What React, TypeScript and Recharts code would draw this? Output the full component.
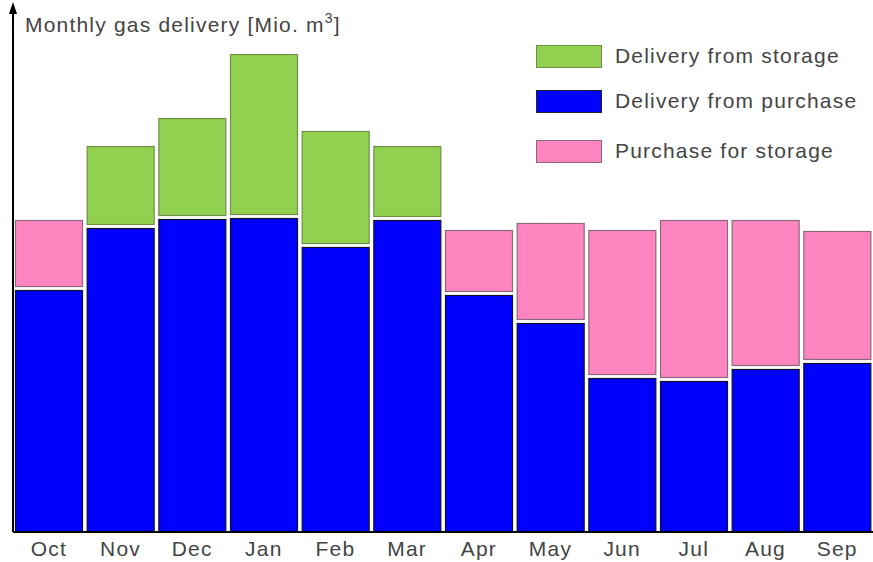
import { BarChart, Bar, XAxis, YAxis } from "recharts";

const months = ["Oct", "Nov", "Dec", "Jan", "Feb", "Mar", "Apr", "May", "Jun", "Jul", "Aug", "Sep"];
const fromPurchase = [242, 304, 313, 314, 285, 312, 237, 209, 154, 151, 163, 169];
const fromStorage = [null, 82, 101, 164, 116, 74, null, null, null, null, null, null];
const forStorage = [70, null, null, null, null, null, 65, 100, 148, 161, 149, 132];

const GREEN = "#92d050";
const BLUE = "#0000ff";
const PINK = "#ff85c0";
const FONT = "'Liberation Sans', Arial, sans-serif";

const data = months.map((m, i) => ({
  month: m,
  purchase: fromPurchase[i],
  storage: fromStorage[i],
  forStorage: forStorage[i],
}));

const legendItems = [
  { label: "Delivery from storage", color: GREEN, stroke: "#6f8f4a" },
  { label: "Delivery from purchase", color: BLUE, stroke: "#223" },
  { label: "Purchase for storage", color: PINK, stroke: "#8a6a7a" },
];

// lower segment: full rect; upper segments leave a small white gap at the bottom
function makeShape(stroke: string, gap: number) {
  return (props: any) => {
    const { x, y, width, height, fill } = props;
    if (!height || height <= gap) return null;
    return (
      <rect
        x={x + 0.5}
        y={y + 0.5}
        width={width - 1}
        height={height - gap - 1}
        fill={fill}
        stroke={stroke}
        strokeWidth={1.2}
      />
    );
  };
}

function AxisTitle(props: any) {
  const vb = props.viewBox || {};
  const x = (vb.x ?? 12) + (vb.width ?? 0);
  const y = vb.y ?? 5;
  return (
    <g>
      <polygon points={`${x},${y - 3} ${x - 4},${y + 9} ${x + 4},${y + 9}`} fill="#000" />
      <text x={x + 12} y={y + 27} fill="#444" fontSize={21} fontFamily={FONT} letterSpacing={1.2}>
        Monthly gas delivery [Mio. m
        <tspan fontSize={14} dy={-9}>3</tspan>
        <tspan dy={9}>]</tspan>
      </text>
    </g>
  );
}

function LegendBox() {
  return (
    <div
      style={{
        position: "absolute",
        left: 536,
        top: 45,
        fontFamily: FONT,
        fontSize: 21,
        color: "#444",
        letterSpacing: 1.2,
      }}
    >
      {legendItems.map((it, i) => (
        <div
          key={it.label}
          style={{ display: "flex", alignItems: "center", height: 22, marginBottom: i === 1 ? 28 : 23 }}
        >
          <div
            style={{
              width: 64,
              height: 21,
              background: it.color,
              border: `1px solid ${it.stroke}`,
              marginRight: 13,
            }}
          />
          <span style={{ whiteSpace: "nowrap" }}>{it.label}</span>
        </div>
      ))}
    </div>
  );
}

export default function App() {
  return (
    <div style={{ position: "absolute", left: 0, top: 0, width: 873, height: 562, background: "#fff", overflow: "hidden" }}>
      <BarChart
        width={873}
        height={562}
        data={data}
        margin={{ top: 5, right: 0, left: 12, bottom: 0 }}
        barCategoryGap={2}
      >
        <XAxis
          dataKey="month"
          height={30}
          interval={0}
          tickLine={false}
          axisLine={{ stroke: "#000", strokeWidth: 2 }}
          tick={{ fill: "#444", fontSize: 21, fontFamily: FONT, letterSpacing: 1.2 }}
          tickMargin={3}
        />
        <YAxis
          width={1}
          domain={[0, 527]}
          tick={false}
          tickLine={false}
          axisLine={{ stroke: "#000", strokeWidth: 2 }}
          label={{ content: (p: any) => <AxisTitle {...p} /> }}
        />
        <Bar dataKey="purchase" stackId="a" fill={BLUE} shape={makeShape("#112", 0)} isAnimationActive={false} />
        <Bar dataKey="storage" stackId="a" fill={GREEN} shape={makeShape("#6f8f4a", 3)} isAnimationActive={false} />
        <Bar dataKey="forStorage" stackId="a" fill={PINK} shape={makeShape("#8a6a7a", 3)} isAnimationActive={false} />
      </BarChart>
      <LegendBox />
    </div>
  );
}
